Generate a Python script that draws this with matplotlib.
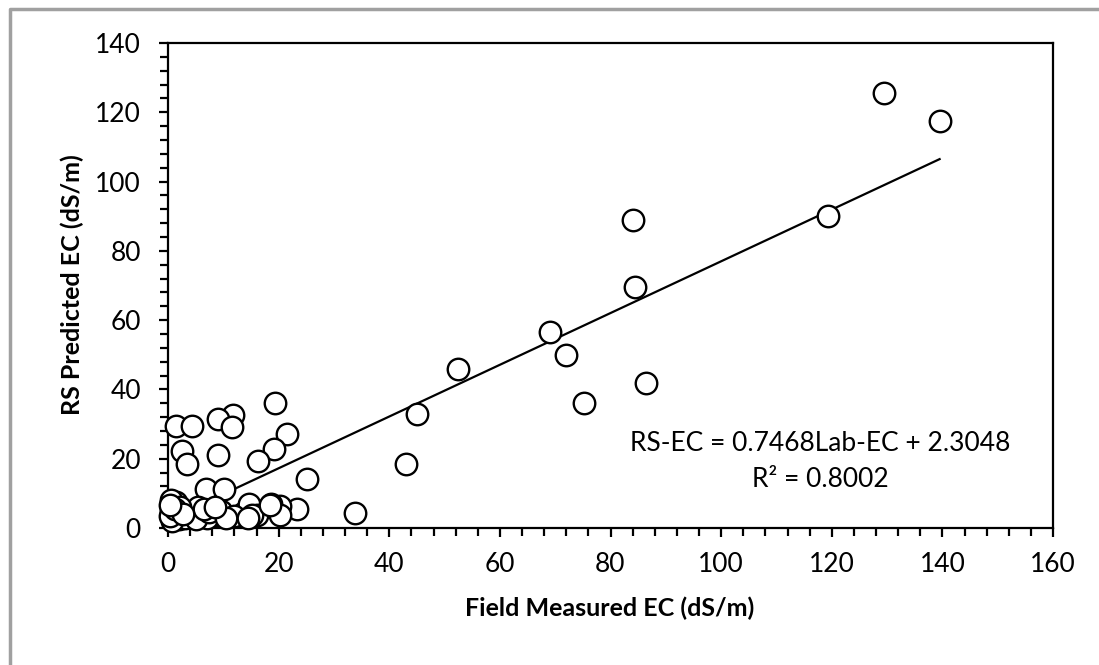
import matplotlib.pyplot as plt
from matplotlib.lines import Line2D
from matplotlib.ticker import MultipleLocator
import numpy as np

plt.rcParams['font.family'] = ['Lato', 'DejaVu Sans']

# --- Data ---
field_ec = [129.5, 139.5, 119.3, 84.0, 84.5, 69.0, 72.0, 52.5, 86.5, 75.2,
            45.0, 43.0, 33.8, 25.1, 19.3, 21.6, 19.2, 16.2, 11.8, 9.1,
            11.5, 1.5, 4.3, 2.6, 3.4, 9.1, 6.9, 10.1, 1.5, 23.3,
            20.3, 18.7, 20.3, 13.6, 13.0, 14.7, 16.0, 8.0, 9.5, 6.4,
            7.0, 0.5, 0.6, 1.0, 1.5, 2.0, 3.0, 4.5, 5.5, 12.0,
            15.2, 0.8, 2.2, 5.0, 7.5, 10.5, 14.5, 0.3, 6.5, 18.5,
            1.2, 2.8, 8.5, 0.4]
rs_ec = [125.5, 117.5, 90.0, 88.8, 69.7, 56.5, 50.0, 45.8, 42.0, 36.0,
         33.0, 18.5, 4.4, 14.1, 36.0, 27.0, 22.7, 19.4, 32.6, 31.4,
         29.2, 29.5, 29.5, 22.3, 18.5, 21.1, 11.4, 11.4, 7.6, 5.4,
         6.3, 6.9, 3.8, 4.2, 3.5, 7.0, 3.8, 3.5, 5.0, 3.8,
         3.0, 8.0, 5.0, 3.0, 4.0, 2.5, 3.0, 5.0, 6.0, 3.5,
         3.8, 2.0, 6.0, 2.5, 4.5, 3.0, 3.0, 3.5, 5.5, 6.5,
         5.5, 4.0, 6.0, 6.5]

slope = 0.7468
intercept = 2.3048

fig = plt.figure(figsize=(10.99, 6.65), dpi=100)
ax = fig.add_axes([168 / 1099, 1 - 528 / 665, (1053 - 168) / 1099, (528 - 43) / 665])

ax.scatter(field_ec, rs_ec, s=240, facecolors='white', edgecolors='black',
           linewidths=1.7, zorder=3, clip_on=False)

xfit = np.array([min(field_ec), max(field_ec)])
ax.plot(xfit, slope * xfit + intercept, color='black', lw=1.6, zorder=2)

ax.set_xlim(0, 160)
ax.set_ylim(0, 140)
ax.xaxis.set_major_locator(MultipleLocator(20))
ax.xaxis.set_minor_locator(MultipleLocator(4))
ax.yaxis.set_major_locator(MultipleLocator(20))
ax.yaxis.set_minor_locator(MultipleLocator(4))
ax.tick_params(which='both', direction='out', width=1.6, labelsize=19, color='black')
ax.tick_params(which='major', length=6.5)
ax.tick_params(which='minor', length=6)
ax.tick_params(axis='x', which='major', pad=11)
ax.tick_params(axis='y', which='major', pad=13)
for sp in ax.spines.values():
    sp.set_linewidth(1.6)

fig.text(610 / 1099, 1 - 608 / 665, 'Field Measured EC (dS/m)', ha='center', va='center',
         fontsize=18, fontweight='bold')
fig.text(72 / 1099, 1 - 285 / 665, 'RS Predicted EC (dS/m)', ha='center', va='center',
         rotation=90, fontsize=18, fontweight='bold')

ax.text(118, 24.5, 'RS-EC = 0.7468Lab-EC + 2.3048', ha='center', va='center', fontsize=19)
ax.text(118, 14.0, 'R² = 0.8002', ha='center', va='center', fontsize=19)

# grey frame remnant (left and top edges)
fx = 10 / 1099
fy = 1 - 9 / 665
fig.add_artist(Line2D([fx, fx, 1], [0, fy, fy], transform=fig.transFigure,
                      color='#a0a0a0', lw=2.5))

plt.savefig('out.png', dpi=100)
plt.close()
